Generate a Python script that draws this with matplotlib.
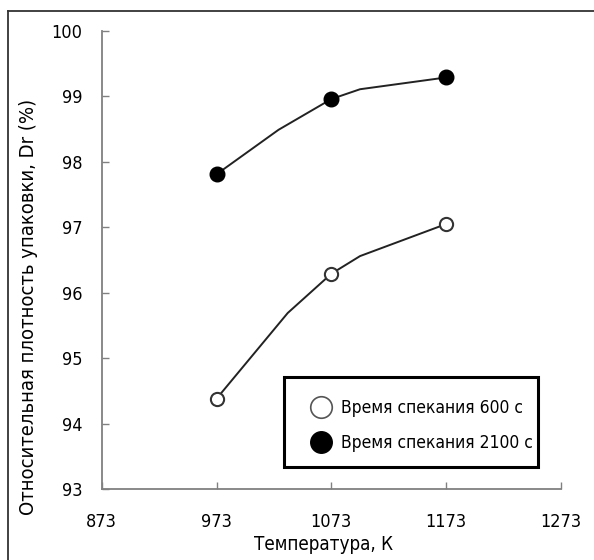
import matplotlib
matplotlib.use("Agg")
import matplotlib.pyplot as plt
from matplotlib.lines import Line2D
from matplotlib.patches import Rectangle

plt.rcParams['font.family'] = ['DejaVu Sans']
plt.rcParams['font.stretch'] = 'condensed'

# Data points (markers)
temps = [973, 1073, 1173]
dr_600 = [94.38, 96.29, 97.05]
dr_2100 = [97.81, 98.96, 99.29]

# Line vertices as drawn in the reference (smoothed polyline)
curve_600_x = [973, 1035, 1073, 1098, 1173]
curve_600_y = [94.38, 95.69, 96.29, 96.56, 97.05]
curve_2100_x = [973, 1027, 1073, 1098, 1173]
curve_2100_y = [97.81, 98.49, 98.96, 99.11, 99.29]

xticks = [873, 973, 1073, 1173, 1273]
yticks = [93, 94, 95, 96, 97, 98, 99, 100]

label_600 = 'Время спекания 600 с'
label_2100 = 'Время спекания 2100 с'

W, H = 594, 560
fig = plt.figure(figsize=(W / 100, H / 100), dpi=100)
ax = fig.add_axes([101.7 / W, 1 - 489 / H, (561 - 101.7) / W, (489 - 31) / H])

line_col = '#222222'
ax.plot(curve_2100_x, curve_2100_y, color=line_col, lw=1.4, zorder=2)
ax.plot(curve_600_x, curve_600_y, color=line_col, lw=1.4, zorder=2)
ax.plot(temps, dr_2100, linestyle='none', marker='o', ms=10.5, mfc='black',
        mec='black', mew=1.0, zorder=3)
ax.plot(temps, dr_600, linestyle='none', marker='o', ms=9.5, mfc='white',
        mec='#333333', mew=1.5, zorder=3)

ax.set_xlim(873, 1273)
ax.set_ylim(93, 100)
ax.set_xticks(xticks)
ax.set_yticks(yticks)
ax.set_xticklabels([str(t) for t in xticks])
ax.set_yticklabels([str(t) for t in yticks])

for s in ['top', 'right']:
    ax.spines[s].set_visible(False)
for s in ['left', 'bottom']:
    ax.spines[s].set_color('#808080')
    ax.spines[s].set_linewidth(1.3)

ax.tick_params(axis='both', direction='in', length=5, width=1.0,
               colors='#808080', labelcolor='black', labelsize=13)
ax.tick_params(axis='y', pad=14)
ax.tick_params(axis='x', pad=17)

ax.set_xlabel('Температура, К', fontsize=13.5)
ax.set_ylabel('Относительная плотность упаковки, Dr (%)', fontsize=14.5)
ax.xaxis.set_label_coords((324 - 101.7) / 459.3, (489 - 535.5) / 458)
ax.yaxis.set_label_coords((38 - 101.7) / 459.3, (489 - 307) / 458)

handles = [
    Line2D([], [], linestyle='none', marker='o', ms=15.5, mfc='white',
           mec='#555555', mew=1.2),
    Line2D([], [], linestyle='none', marker='o', ms=15.5, mfc='black',
           mec='black'),
]
leg = ax.legend(handles, [label_600, label_2100], loc='upper left',
                bbox_to_anchor=(308 / W, 1 - 399 / H),
                bbox_transform=fig.transFigure, frameon=False,
                fontsize=12.5, handlelength=1.5, handletextpad=0.4,
                borderpad=0, labelspacing=0.98, borderaxespad=0)
fig.add_artist(Rectangle((284 / W, 1 - 467 / H), (538 - 284) / W,
                         (467 - 377) / H, transform=fig.transFigure,
                         fill=False, edgecolor='black', lw=2.2, zorder=5))

# Outer frame (left and top edges visible)
fig.add_artist(Line2D([8 / W, 8 / W], [0, 1 - 11 / H],
                      transform=fig.transFigure, color='#333333', lw=1.3))
fig.add_artist(Line2D([8 / W, 1], [1 - 11 / H, 1 - 11 / H],
                      transform=fig.transFigure, color='#333333', lw=1.3))

fig.savefig('out.png', dpi=100)
